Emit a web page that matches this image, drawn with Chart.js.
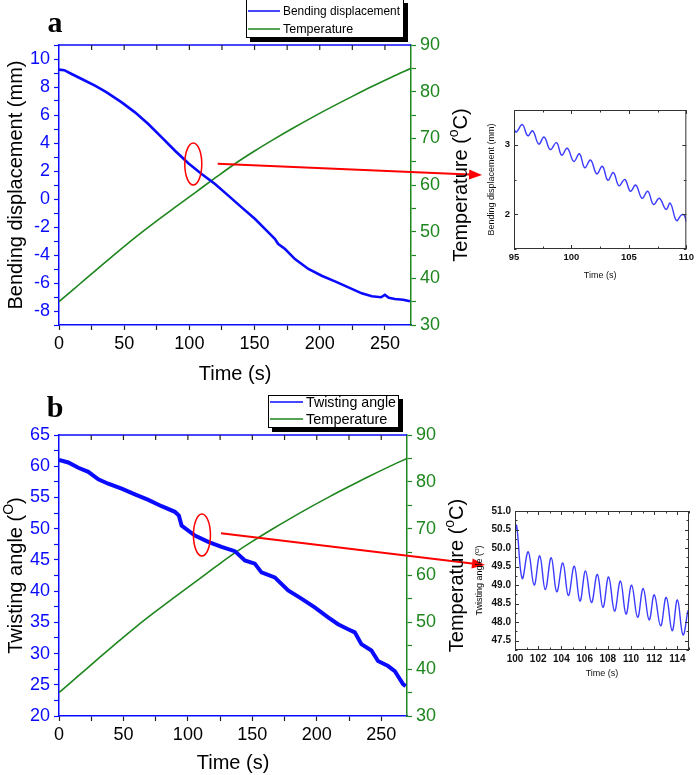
<!DOCTYPE html>
<html><head><meta charset="utf-8">
<script src="https://cdn.jsdelivr.net/npm/chart.js@4.4.1/dist/chart.umd.min.js"></script>
<style>
html,body{margin:0;padding:0;background:#fff;}
#wrap{position:relative;width:697px;height:775px;overflow:hidden;background:#fff;}
canvas{position:absolute;}
</style></head><body>
<div id="wrap">
<canvas id="mainA" width="697" height="390" style="left:0;top:0;width:697px;height:390px"></canvas>
<canvas id="mainB" width="697" height="385" style="left:0;top:390px;width:697px;height:385px"></canvas>
<canvas id="insetA" width="215" height="190" style="left:482px;top:95px;width:215px;height:190px"></canvas>
<canvas id="insetB" width="226" height="190" style="left:471px;top:495px;width:226px;height:190px"></canvas>
</div>
<script>
// ---------------- DATA ----------------
// Panel a: bending displacement (mm) vs time (s)
const timeA = [0,4,9.7,17.4,27.6,36.6,48.1,58.3,68.5,78.8,89,99.2,109.4,119.7,129.9,140.1,150.4,160.6,165.7,168,173.4,181,191.3,201.5,211.7,222,232.2,240,247,250,253,257.7,264,269.2];
const bendA = [9.24,9.2,8.93,8.57,8.10,7.62,6.90,6.19,5.36,4.40,3.45,2.55,1.79,1.07,0.24,-0.60,-1.43,-2.38,-2.86,-3.2,-3.57,-4.29,-5.0,-5.48,-5.88,-6.31,-6.74,-6.95,-7.02,-6.85,-7.05,-7.14,-7.2,-7.31];
// Temperature (°C) vs time (s), both panels
const tempTime = [0,15,30,45,60,75,90,105,120,135,150,165,180,195,210,225,240,255,270];
const tempVals = [35.0,38.57,42.14,45.68,49.1,52.32,55.42,58.49,61.56,64.56,67.28,69.83,72.26,74.6,76.84,78.99,81.09,83.09,85.0];
// Panel b: twisting angle (°) vs time (s)
const timeB = [0,7.2,15,22.7,30.5,38.2,48.6,58.9,69.3,79.6,89.9,93,95.1,105.4,115.8,126.1,136.4,144.2,151.9,157.1,167.4,177.8,188.1,198.4,208.8,216.5,224.3,229.5,234.6,242.4,247.5,255.3,260.5,266.9,269];
const twistB = [61.0,60.6,59.75,59.1,57.9,57.2,56.4,55.5,54.6,53.6,52.7,52.1,50.5,48.9,47.9,47.1,46.4,44.9,44.4,43.0,42.2,40.1,38.8,37.4,35.8,34.7,33.9,33.4,31.5,30.5,28.8,28.0,27.2,25.1,24.8];
// Inset a: 95-110 s zoom of bending displacement
const insetATime = [95,95.2,95.72,96.2,96.63,97.15,97.63,98.15,98.7,99.15,99.64,100.2,100.7,101.15,101.67,102.2,102.7,103.16,103.65,104.13,104.65,105.13,105.6,106.14,106.65,107.14,107.65,108.23,108.6,109.14,109.57,109.8,110];
const insetAVals = [3.23,3.18,3.29,3.13,3.20,3.01,3.11,2.93,3.03,2.85,2.95,2.76,2.87,2.67,2.78,2.58,2.69,2.49,2.60,2.41,2.50,2.33,2.42,2.23,2.33,2.14,2.23,2.07,2.16,1.91,1.99,1.99,1.89];
// Inset b: 100-115 s zoom of twisting angle
const insetBTime = [100,100.14,100.62,101.14,101.65,102.13,102.61,103.12,103.6,104.12,104.6,105.11,105.6,106.08,106.59,107.1,107.58,108.07,108.58,109.09,109.57,110.05,110.57,111.05,111.56,112.01,112.55,113.04,113.55,114.0,114.48,114.91];
const insetBVals = [50.39,50.61,49.18,49.9,49.0,49.79,48.88,49.74,48.82,49.6,48.72,49.51,48.57,49.38,48.53,49.29,48.4,49.22,48.3,49.11,48.22,49.0,48.13,48.91,48.06,48.74,47.9,48.67,47.77,48.6,47.66,48.32];
// Axis / legend text ([text, isSuperscript] parts for titles with superscripts)
const xTitle = 'Time (s)';
const yTitleA = 'Bending displacement (mm)';
const yTitleBParts = [['Twisting angle (',0],['O',1],[')',0]];
const y2TitleParts = [['Temperature (',0],['o',1],['C)',0]];
const labelsA = ['Bending displacement','Temperature'];
const labelsB = ['Twisting angle','Temperature'];

// ---------------- STYLE ----------------
const BLUE='#0a0aff', GREEN='#1e861e', INK='#222', RED='#ff0000', IBLUE='#3b3bff';
const FONT='"Liberation Sans", Arial, Helvetica, sans-serif';
Chart.defaults.font.family = FONT;
const pts = (xs,ys)=>xs.map((x,i)=>({x:x,y:ys[i]}));

const topTicks = {
  id:'topTicks',
  afterDraw(chart,args,o){
    const {ctx, chartArea:a, scales:{x}} = chart;
    ctx.save();
    ctx.strokeStyle=o.frameColor; ctx.lineWidth=1.5;
    ctx.beginPath(); ctx.moveTo(a.left,a.top); ctx.lineTo(a.right,a.top); ctx.stroke();
    ctx.strokeStyle=INK; ctx.lineWidth=1.2;
    x.ticks.forEach(t=>{const p=x.getPixelForValue(t.value); if(p<=a.left+1||p>=a.right-1)return; ctx.beginPath(); ctx.moveTo(p,a.top); ctx.lineTo(p,a.top+5); ctx.stroke();});
    ctx.restore();
  }
};
const boxLegend = {
  id:'boxLegend',
  afterDraw(chart,args,o){
    const ctx=chart.ctx; ctx.save();
    ctx.fillStyle='#000'; ctx.fillRect(o.x+4,o.y+4,o.w,o.h);
    ctx.fillStyle='#fff'; ctx.fillRect(o.x,o.y,o.w,o.h);
    ctx.strokeStyle='#000'; ctx.lineWidth=1; ctx.strokeRect(o.x+0.5,o.y+0.5,o.w-1,o.h-1);
    ctx.font=o.font; ctx.textBaseline='middle'; ctx.textAlign='left';
    chart.data.datasets.forEach((ds,i)=>{
      const yy=o.y+o.rows[i];
      ctx.strokeStyle=ds.borderColor; ctx.lineWidth=1.5;
      ctx.beginPath(); ctx.moveTo(o.x+2,yy); ctx.lineTo(o.x+2+o.lineLen,yy); ctx.stroke();
      ctx.fillStyle='#000'; ctx.fillText(ds.label,o.x+o.textX,yy+1,o.maxW);
    });
    ctx.restore();
  }
};
const callout = {
  id:'callout',
  afterDatasetsDraw(chart,args,o){
    const {ctx, scales:{x,y}} = chart;
    ctx.save();
    ctx.strokeStyle=RED; ctx.fillStyle=RED; ctx.lineWidth=1.5;
    const cx=x.getPixelForValue(o.ellipse[0]), cy=y.getPixelForValue(o.ellipse[1]);
    ctx.beginPath(); ctx.ellipse(cx,cy,o.rx,o.ry,0,0,Math.PI*2); ctx.stroke();
    const x0=x.getPixelForValue(o.arrow[0]), y0=y.getPixelForValue(o.arrow[1]);
    const x1=x.getPixelForValue(o.arrow[2]), y1=y.getPixelForValue(o.arrow[3]);
    const ang=Math.atan2(y1-y0,x1-x0), hl=13, hw=5;
    const bx=x1-hl*Math.cos(ang), by=y1-hl*Math.sin(ang);
    ctx.lineWidth=2;
    ctx.beginPath(); ctx.moveTo(x0,y0); ctx.lineTo(bx,by); ctx.stroke();
    ctx.beginPath(); ctx.moveTo(x1,y1);
    ctx.lineTo(bx+hw*Math.sin(ang), by-hw*Math.cos(ang));
    ctx.lineTo(bx-hw*Math.sin(ang), by+hw*Math.cos(ang));
    ctx.closePath(); ctx.fill();
    ctx.fillStyle='#000'; ctx.font='bold 30px "Liberation Serif", "Times New Roman", serif';
    ctx.textAlign='center'; ctx.textBaseline='alphabetic';
    ctx.fillText(o.letter,o.lx,o.ly);
    ctx.restore();
  }
};
// vertical axis titles (reading bottom-to-top) with superscript support
const vTitle = {
  id:'vTitle',
  afterDraw(chart,args,o){
    const ctx=chart.ctx, a=chart.chartArea;
    (o.items||[]).forEach(it=>{
      const sc=chart.scales[it.axis];
      const cx = it.side==='right' ? sc.right - it.off : sc.left + it.off;
      const cy = (a.top+a.bottom)/2;
      ctx.save(); ctx.translate(cx,cy); ctx.rotate(-Math.PI/2);
      ctx.fillStyle='#000'; ctx.textBaseline='middle'; ctx.textAlign='left';
      const f=s=>(s?Math.round(it.size*0.68):it.size)+'px '+FONT;
      let total=0;
      it.parts.forEach(([t,s])=>{ctx.font=f(s); total+=ctx.measureText(t).width;});
      let px=-total/2;
      it.parts.forEach(([t,s])=>{ctx.font=f(s); ctx.fillText(t,px,s?-it.size*0.33:0); px+=ctx.measureText(t).width;});
      ctx.restore();
    });
  }
};
const insetFrame = {
  id:'insetFrame',
  afterDraw(chart){
    const {ctx, chartArea:a, scales:{x,y}} = chart;
    ctx.save(); ctx.strokeStyle='#333'; ctx.lineWidth=1;
    ctx.strokeRect(a.left+0.5,a.top+0.5,a.right-a.left-1,a.bottom-a.top-1);
    x.ticks.forEach(t=>{const p=Math.round(x.getPixelForValue(t.value))+0.5; const L=t.label!==''?4:2.5;
      ctx.beginPath(); ctx.moveTo(p,a.bottom); ctx.lineTo(p,a.bottom-L); ctx.moveTo(p,a.top); ctx.lineTo(p,a.top+L); ctx.stroke();});
    y.ticks.forEach(t=>{const p=Math.round(y.getPixelForValue(t.value))+0.5; const L=t.label!==''?4:2.5;
      ctx.beginPath(); ctx.moveTo(a.left,p); ctx.lineTo(a.left+L,p); ctx.moveTo(a.right,p); ctx.lineTo(a.right-L,p); ctx.stroke();});
    ctx.restore();
  }
};

function mainChart(id, cfg){
  const vItems=[{axis:'y2', side:'right', off:14, size:20, parts:y2TitleParts}];
  if(cfg.yParts) vItems.push({axis:'y', side:'left', off:16, size:20, parts:cfg.yParts});
  return new Chart(document.getElementById(id), {
    type:'line',
    data:{datasets:[
      {label:cfg.labels[0], data:pts(cfg.tx,cfg.ty), borderColor:BLUE, borderWidth:cfg.bw, pointRadius:0, tension:0, yAxisID:'y'},
      {label:cfg.labels[1], data:pts(tempTime,tempVals), borderColor:GREEN, borderWidth:1.6, pointRadius:0, cubicInterpolationMode:'monotone', yAxisID:'y2'}
    ]},
    options:{
      responsive:false, animation:false, devicePixelRatio:1,
      events:[],
      layout:{padding:{top:45,right:cfg.padRight,left:0,bottom:0}},
      plugins:{legend:{display:false}, tooltip:{enabled:false},
        topTicks:{frameColor:BLUE},
        boxLegend:cfg.legend,
        callout:cfg.callout,
        vTitle:{items:vItems}},
      scales:{
        x:{type:'linear', min:0, max:270, position:'bottom',
          afterFit:s=>{s.height=cfg.xh;},
          ticks:{stepSize:25, includeBounds:false, autoSkip:false, maxRotation:0, padding:3,
            color:'#000', font:{size:18}, callback:v=>v%50===0?String(v):''},
          grid:{drawOnChartArea:false, drawTicks:true, tickLength:5, tickColor:INK, tickWidth:1.2},
          border:{display:true, color:BLUE, width:1.5},
          title:{display:true, text:xTitle, color:'#000', font:{size:20}, padding:{top:0,bottom:cfg.xtPad}}},
        y:{type:'linear', min:cfg.ymin, max:cfg.ymax, position:'left',
          afterFit:s=>{s.width=59;},
          ticks:{stepSize:cfg.ystep, autoSkip:false, padding:4, color:BLUE, font:{size:18}, callback:cfg.ycb},
          grid:{drawOnChartArea:false, drawTicks:true, tickLength:5, tickColor:BLUE, tickWidth:1.2},
          border:{display:true, color:BLUE, width:1.5},
          title:{display:!!cfg.ytitle, text:cfg.ytitle||'', color:'#000', font:{size:20}, padding:{top:4,bottom:0}}},
        y2:{type:'linear', min:30, max:90, position:'right',
          afterFit:s=>{s.width=64;},
          ticks:{stepSize:5, autoSkip:false, padding:4, color:GREEN, font:{size:18}, callback:v=>v%10===0?String(v):''},
          grid:{drawOnChartArea:false, drawTicks:true, tickLength:5, tickColor:GREEN, tickWidth:1.2},
          border:{display:true, color:GREEN, width:1.5},
          title:{display:false}}
      }
    },
    plugins:[topTicks, boxLegend, callout, vTitle]
  });
}

mainChart('mainA', {
  labels:labelsA, tx:timeA, ty:bendA, bw:2.6, padRight:222, xh:65, xtPad:4,
  ymin:-9, ymax:11, ystep:1, ycb:v=>v%2===0?String(v):'', ytitle:yTitleA,
  legend:{x:246,y:-1,w:158,h:39,font:'12.5px '+FONT,rows:[12,30],lineLen:32,textX:37,maxW:117},
  callout:{ellipse:[103,2.5], rx:8.5, ry:21, arrow:[121.7,2.52,324.5,1.71], letter:'a', lx:55, ly:32}
});
mainChart('mainB', {
  labels:labelsB, tx:timeB, ty:twistB, bw:4, padRight:226, xh:59, xtPad:0,
  ymin:20, ymax:65, ystep:2.5, ycb:v=>v%5===0?String(v):'', yParts:yTitleBParts,
  legend:{x:268,y:5,w:131,h:33,font:'14.5px '+FONT,rows:[7,24],lineLen:33,textX:38,maxW:90},
  callout:{ellipse:[110.9,48.98], rx:8.5, ry:21, arrow:[125.7,49.26,330.5,44.18], letter:'b', lx:55, ly:27}
});

function insetChart(id, cfg){
  const vItems = cfg.yParts ? [{axis:'y', side:'left', off:9, size:9, parts:cfg.yParts}] : [];
  return new Chart(document.getElementById(id), {
    type:'line',
    data:{datasets:[{data:pts(cfg.tx,cfg.ty), borderColor:IBLUE, borderWidth:1.4, pointRadius:0, tension:0.4}]},
    options:{
      responsive:false, animation:false, devicePixelRatio:1, events:[],
      layout:{padding:{top:cfg.padTop,right:8,left:0,bottom:0}},
      plugins:{legend:{display:false}, tooltip:{enabled:false}, vTitle:{items:vItems}},
      scales:{
        x:{type:'linear', min:cfg.xmin, max:cfg.xmax, afterFit:s=>{s.height=cfg.xh;},
          ticks:{stepSize:cfg.xstep, includeBounds:false, autoSkip:false, maxRotation:0, padding:3, color:'#111', font:{size:cfg.tickSize, weight:'bold'}, callback:cfg.xcb},
          grid:{display:false, drawTicks:false}, border:{display:false},
          title:{display:true, text:xTitle, color:'#111', font:{size:9}, padding:{top:0,bottom:cfg.xtPad}}},
        y:{type:'linear', min:cfg.ymin, max:cfg.ymax, afterFit:s=>{s.width=cfg.yw;},
          ticks:{stepSize:cfg.ystep, autoSkip:false, padding:4, color:'#111', font:{size:cfg.tickSize, weight:'bold'}, callback:cfg.ycb},
          grid:{display:false, drawTicks:false}, border:{display:false},
          title:{display:!!cfg.ytitle, text:cfg.ytitle||'', color:'#111', font:{size:9}, padding:{top:4,bottom:0}}}
      }
    },
    plugins:[insetFrame, vTitle]
  });
}
insetChart('insetA', {tx:insetATime, ty:insetAVals, padTop:15, xh:36, yw:32, xtPad:4, tickSize:9.5,
  xmin:95, xmax:110, xstep:2.5, xcb:v=>v%5===0?String(v):'',
  ymin:1.5, ymax:3.5, ystep:0.5, ycb:v=>Number.isInteger(v)?String(v):'', ytitle:yTitleA});
insetChart('insetB', {tx:insetBTime, ty:insetBVals, padTop:16, xh:35, yw:44, xtPad:6, tickSize:10,
  xmin:100, xmax:115, xstep:1, xcb:v=>v%2===0?String(v):'',
  ymin:47.25, ymax:51, ystep:0.25, ycb:v=>Math.abs(v*2-Math.round(v*2))<1e-6?v.toFixed(1):'', yParts:yTitleBParts});
</script>
</body></html>
